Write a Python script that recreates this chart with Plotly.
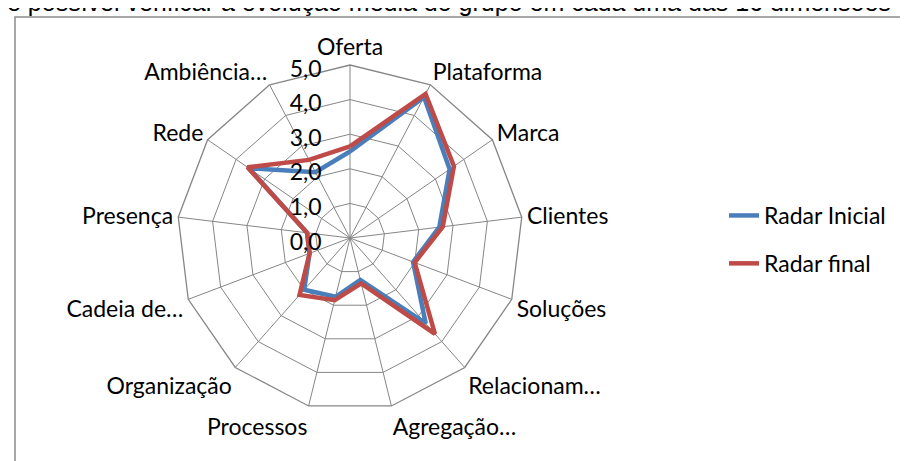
import plotly.graph_objects as go

categories = ["Oferta", "Plataforma", "Marca", "Clientes", "Soluções", "Relacionam…",
              "Agregação…", "Processos", "Organização", "Cadeia de…", "Presença",
              "Rede", "Ambiência…"]
radar_inicial = [2.5, 4.6, 3.5, 2.6, 1.95, 3.3, 1.25, 1.75, 2.0, 1.25, 1.25, 3.55, 2.15]
radar_final = [2.65, 4.7, 3.65, 2.7, 2.0, 3.7, 1.35, 1.85, 2.2, 1.25, 1.25, 3.6, 2.55]
series_names = ["Radar Inicial", "Radar final"]
series_colors = ["#4A7EBB", "#BE4B48"]
top_text = "é possível verificar a evolução média do grupo em cada uma das 16 dimensões"

W, H = 908, 461
FONT = "Lato"
FS = 23

fig = go.Figure()
for i, (name, vals, col) in enumerate(zip(series_names, [radar_inicial, radar_final], series_colors)):
    fig.add_trace(go.Scatterpolar(
        r=vals + vals[:1], theta=categories + categories[:1],
        mode="lines", name=name, legendgroup=name,
        line=dict(color=col, width=4.5)))

cx, cy, R = 342, 230, 173
fig.update_layout(
    width=W, height=H,
    margin=dict(l=0, r=0, t=0, b=0),
    paper_bgcolor="white",
    separators=",.",
    font=dict(family=FONT, size=FS, color="black"),
    polar=dict(
        domain=dict(x=[(cx - R) / W, (cx + R) / W], y=[(H - cy - R) / H, (H - cy + R) / H]),
        gridshape="linear",
        bgcolor="white",
        angularaxis=dict(direction="clockwise", rotation=90, showline=True,
                         linecolor="#868686", linewidth=1.3,
                         gridcolor="#868686", gridwidth=1.3,
                         ticks="",
                         tickfont=dict(family=FONT, size=FS)),
        radialaxis=dict(range=[0, 5], dtick=1, tickformat=".1f", angle=90,
                        side="counterclockwise", showline=False, ticks="",
                        gridcolor="#868686", gridwidth=1.3,
                        tickfont=dict(family=FONT, size=FS), ticksuffix="\u00a0\u00a0"),
    ),
    legend=dict(x=716 / W, y=1 - 186 / H, xanchor="left", yanchor="top",
                tracegroupgap=15, font=dict(family=FONT, size=FS),
                bgcolor="rgba(0,0,0,0)"),
    showlegend=True,
)

fig.add_shape(type="rect", xref="paper", yref="paper",
              x0=7 / W, x1=1.02, y0=-0.02, y1=1 - 9 / H,
              line=dict(color="#8c8c8c", width=1.5), fillcolor="rgba(0,0,0,0)", layer="below")

fig.add_annotation(text=top_text, xref="paper", yref="paper", x=-3 / W, y=1 - 10 / H,
                   xanchor="left", yanchor="bottom", showarrow=False,
                   font=dict(family="Liberation Sans", size=25, color="black"))

fig.write_html("out.html")
